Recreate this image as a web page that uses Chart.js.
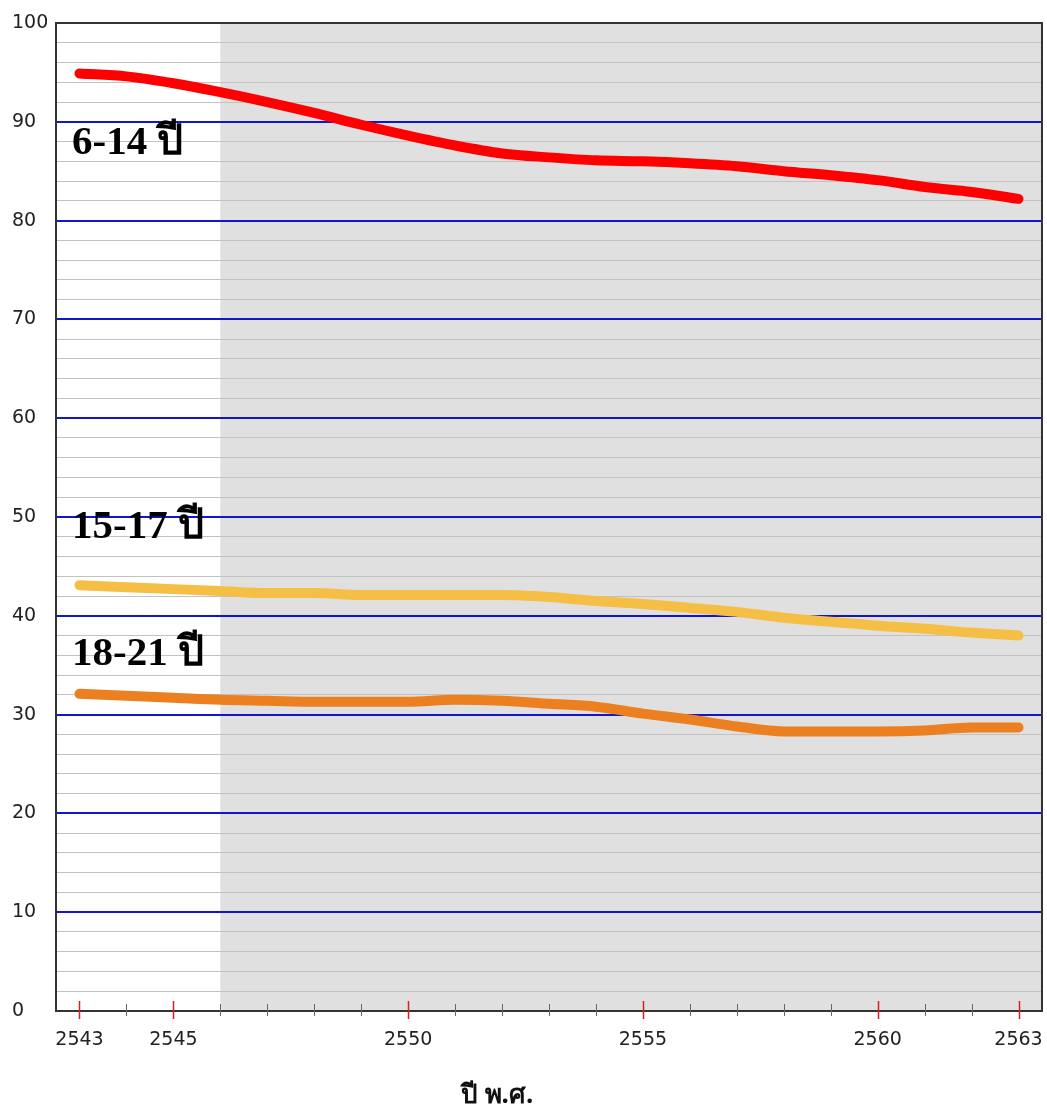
<!DOCTYPE html>
<html>
<head>
<meta charset="utf-8">
<script src="https://cdn.jsdelivr.net/npm/chart.js@4/dist/chart.umd.min.js"></script>
<style>
  html, body { margin: 0; padding: 0; background: #fff; }
  #chart { display: block; }
</style>
</head>
<body>
<canvas id="chart" width="1047" height="1111"></canvas>
<script>
// Years (Buddhist era) and values
const years = [2543, 2544, 2545, 2546, 2547, 2548, 2549, 2550, 2551, 2552, 2553,
               2554, 2555, 2556, 2557, 2558, 2559, 2560, 2561, 2562, 2563];
const labeledYears = [2543, 2545, 2550, 2555, 2560, 2563];

const age6to14 = [94.9, 94.6, 93.9, 93.0, 92.0, 90.9, 89.7, 88.6, 87.6, 86.8, 86.4,
                  86.1, 86.0, 85.8, 85.5, 85.0, 84.6, 84.1, 83.4, 82.9, 82.2];
const age15to17 = [43.1, 42.9, 42.7, 42.5, 42.3, 42.3, 42.1, 42.1, 42.1, 42.1, 41.9,
                   41.5, 41.2, 40.8, 40.4, 39.8, 39.4, 39.0, 38.7, 38.3, 38.0];
const age18to21 = [32.1, 31.9, 31.7, 31.5, 31.4, 31.3, 31.3, 31.3, 31.5, 31.4, 31.1,
                   30.8, 30.1, 29.5, 28.8, 28.3, 28.3, 28.3, 28.4, 28.7, 28.7];

const seriesNames = ['6-14 ปี', '15-17 ปี', '18-21 ปี'];
const shadeFrom = 2546;

const toPoints = arr => arr.map((v, i) => ({ x: years[i], y: v }));
const isMajor = v => Math.round(v) % 10 === 0;

// keep the plot box where the reference has it
const noOverflow = axis => {
  axis.paddingLeft = 0;
  axis.paddingRight = 0;
  axis.paddingTop = 0;
  axis.paddingBottom = 0;
};

// white + grey background of the plot
const backdrop = {
  id: 'backdrop',
  beforeDraw(chart) {
    const { ctx, chartArea: a, scales } = chart;
    ctx.save();
    ctx.fillStyle = '#fff';
    ctx.fillRect(0, 0, chart.width, chart.height);
    const xs = scales.x.getPixelForValue(shadeFrom);
    ctx.fillStyle = '#e0e0e0';
    ctx.fillRect(xs, a.top, a.right - xs, a.bottom - a.top);
    ctx.restore();
  }
};

// frame, x tick marks and text annotations
const frame = {
  id: 'frame',
  afterDraw(chart) {
    const { ctx, chartArea: a, scales } = chart;
    ctx.save();
    ctx.strokeStyle = '#333';
    ctx.lineWidth = 2;
    ctx.strokeRect(a.left, a.top, a.right - a.left, a.bottom - a.top);

    years.forEach(v => {
      const px = Math.round(scales.x.getPixelForValue(v)) + 0.5;
      const major = labeledYears.includes(v);
      ctx.strokeStyle = major ? '#d42020' : '#666';
      ctx.lineWidth = major ? 1.5 : 1;
      ctx.beginPath();
      ctx.moveTo(px, a.bottom - (major ? 10 : 7));
      ctx.lineTo(px, a.bottom + (major ? 8 : 5));
      ctx.stroke();
    });

    ctx.fillStyle = '#000';
    ctx.font = 'bold 41px "Liberation Serif", "Times New Roman", serif';
    ctx.textBaseline = 'alphabetic';
    ctx.fillText(seriesNames[0], 72, 154);
    ctx.fillText(seriesNames[1], 72, 538);
    ctx.fillText(seriesNames[2], 72, 665);

    ctx.font = 'bold 26px "Noto Sans", "DejaVu Sans", sans-serif';
    ctx.textAlign = 'center';
    ctx.textBaseline = 'middle';
    ctx.fillStyle = '#111';
    ctx.fillText('ปี พ.ศ.', 497, 1096);
    ctx.restore();
  }
};

const lineStyle = color => ({
  borderColor: color,
  backgroundColor: color,
  borderWidth: 10,
  pointRadius: 0,
  borderCapStyle: 'round',
  borderJoinStyle: 'round',
  cubicInterpolationMode: 'monotone',
  fill: false
});

new Chart(document.getElementById('chart').getContext('2d'), {
  type: 'line',
  data: {
    datasets: [
      { label: seriesNames[0], data: toPoints(age6to14), ...lineStyle('#ff0000') },
      { label: seriesNames[1], data: toPoints(age15to17), ...lineStyle('#f4bf44') },
      { label: seriesNames[2], data: toPoints(age18to21), ...lineStyle('#ec7f20') }
    ]
  },
  options: {
    responsive: false,
    animation: false,
    events: [],
    layout: { padding: { top: 23, right: 5, left: 12, bottom: 0 } },
    plugins: { legend: { display: false }, tooltip: { enabled: false } },
    scales: {
      x: {
        type: 'linear',
        min: 2542.5,
        max: 2563.5,
        afterBuildTicks: axis => { axis.ticks = years.map(v => ({ value: v })); },
        afterFit: axis => { axis.height = 100; noOverflow(axis); },
        border: { display: false },
        grid: { drawOnChartArea: false, drawTicks: false },
        ticks: {
          autoSkip: false,
          maxRotation: 0,
          padding: 18,
          color: '#222',
          font: { family: '"DejaVu Sans", sans-serif', size: 19 },
          callback: v => labeledYears.includes(v) ? String(v) : ''
        }
      },
      y: {
        min: 0,
        max: 100,
        afterFit: axis => { axis.width = 44; noOverflow(axis); },
        border: { display: false },
        grid: {
          drawTicks: false,
          color: c => (c.tick && isMajor(c.tick.value)) ? '#1414cc' : '#c2c2c2',
          lineWidth: c => (c.tick && isMajor(c.tick.value)) ? 2 : 1
        },
        ticks: {
          stepSize: 2,
          autoSkip: false,
          crossAlign: 'far',
          color: '#222',
          font: { family: '"DejaVu Sans", sans-serif', size: 19 },
          callback: v => isMajor(v) ? String(v) : ''
        }
      }
    }
  },
  plugins: [backdrop, frame]
});
</script>
</body>
</html>
